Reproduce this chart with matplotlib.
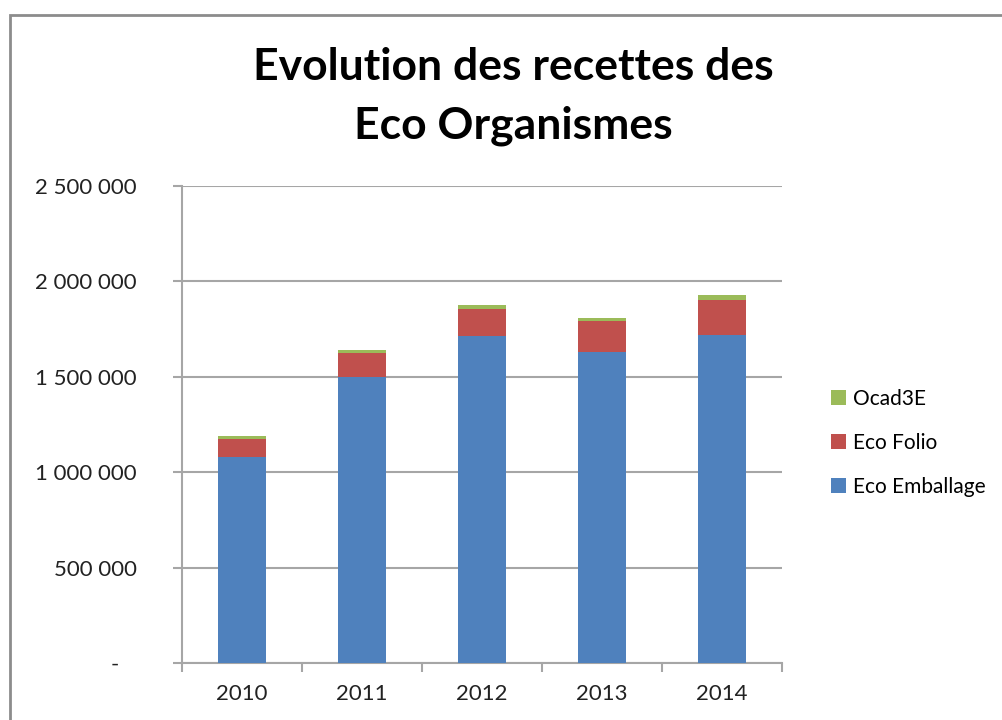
import matplotlib.pyplot as plt
import matplotlib.ticker as mticker
from matplotlib.patches import Rectangle

annees = ["2010", "2011", "2012", "2013", "2014"]
eco_emballage = [1081000, 1501000, 1714000, 1628000, 1721000]
eco_folio = [93000, 125000, 139000, 166000, 184000]
ocad3e = [16000, 14000, 23000, 14000, 25000]

bleu = "#4F81BD"
rouge = "#C0504D"
vert = "#9BBB59"
gris = "#A6A6A6"

plt.rcParams['font.family'] = ['Lato', 'DejaVu Sans']

fig = plt.figure(figsize=(10.02, 7.2), dpi=100)

# cadre du graphique (coupé à droite et en bas)
fig.patches.append(Rectangle((10 / 1002, -0.1), 1.2, (720 - 15) / 720 + 0.1,
                             transform=fig.transFigure, fill=False,
                             edgecolor="#8C8C8C", linewidth=2))

ax = fig.add_axes([182 / 1002, 57 / 720, 600 / 1002, 477 / 720])

x = list(range(len(annees)))
bas2 = [a + b for a, b in zip(eco_emballage, eco_folio)]
ax.bar(x, eco_emballage, width=0.4, color=bleu, label="Eco Emballage", zorder=3)
ax.bar(x, eco_folio, width=0.4, bottom=eco_emballage, color=rouge, label="Eco Folio", zorder=3)
ax.bar(x, ocad3e, width=0.4, bottom=bas2, color=vert, label="Ocad3E", zorder=3)

ax.set_xlim(-0.5, 4.5)
ax.set_ylim(0, 2500000)
ax.set_yticks(range(0, 2500001, 500000))


def fmt(v, pos):
    if v == 0:
        return "-   "
    return f"{int(v):,}".replace(",", " ")


ax.yaxis.set_major_formatter(mticker.FuncFormatter(fmt))
ax.grid(axis="y", color=gris, linewidth=1.5, zorder=0)

ax.set_xticks(x)
ax.set_xticklabels(annees)
ax.set_xticks([i - 0.5 for i in range(len(annees) + 1)], minor=True)
ax.tick_params(axis="x", which="major", length=0, pad=15, labelsize=16, colors="#222222")
ax.tick_params(axis="x", which="minor", length=6.5, color=gris, width=1.5)
ax.tick_params(axis="y", length=6.5, color=gris, width=1.5, pad=26, labelsize=16, labelcolor="#222222")

for s in ["top", "right"]:
    ax.spines[s].set_visible(False)
for s in ["left", "bottom"]:
    ax.spines[s].set_color(gris)
    ax.spines[s].set_linewidth(1.5)

fig.text(513 / 1002, 1 - 80 / 720, "Evolution des recettes des",
         ha="center", va="baseline", fontsize=32, fontweight="bold")
fig.text(513 / 1002, 1 - 139 / 720, "Eco Organismes",
         ha="center", va="baseline", fontsize=32, fontweight="bold")

handles, labels = ax.get_legend_handles_labels()
leg = fig.legend(handles[::-1], labels[::-1], loc="center left",
                 bbox_to_anchor=(812 / 1002, 1 - 443 / 720), frameon=False,
                 fontsize=15, handlelength=0.75, handleheight=0.75,
                 handletextpad=0.3, labelspacing=1.15)

plt.savefig("out.png", dpi=100)
